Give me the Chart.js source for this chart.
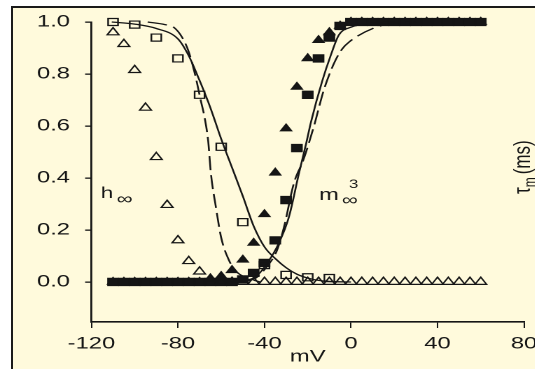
<!DOCTYPE html>
<html>
<head>
<meta charset="utf-8">
<title>Steady-state activation and inactivation</title>
<script src="https://cdn.jsdelivr.net/npm/chart.js@4.4.1/dist/chart.umd.min.js"></script>
<style>
  html, body { margin: 0; padding: 0; background: #fff; overflow: hidden; }
  #panel {
    position: absolute; left: 11px; top: 6px; width: 600px; height: 400px;
    background: #fffadc; border-left: 2px solid #1a1a1a; border-top: 2px solid #1a1a1a;
  }
  /* the figure is drawn narrow and widened horizontally */
  #wrap {
    position: absolute; left: 0; top: 0; width: 400px; height: 369px;
    transform: scaleX(1.4); transform-origin: 0 0;
  }
</style>
</head>
<body>
<div id="panel"></div>
<div id="wrap"><canvas id="chart"></canvas></div>
<script>
// membrane potential steps (mV)
const volts = [-110, -105, -100, -95, -90, -85, -80, -75, -70, -65, -60, -55, -50, -45, -40, -35, -30, -25,
  -20, -15, -10, -5, 0, 5, 10, 15, 20, 25, 30, 35, 40, 45, 50, 55, 60];

// activation data (filled symbols)
const mSquares = [0, 0, 0, 0, 0, 0, 0, 0, 0, 0, 0, 0, 0.01, 0.035, 0.073, 0.16, 0.315, 0.515,
  0.72, 0.86, 0.94, 0.985, 1, 1, 1, 1, 1, 1, 1, 1, 1, 1, 1, 1, 1];
const mTriangles = [0, 0, 0, 0, 0, 0, 0, 0, 0, 0.01, 0.022, 0.045, 0.085, 0.15, 0.26, 0.42, 0.59, 0.75,
  0.86, 0.93, 0.96, 0.985, 1, 1, 1, 1, 1, 1, 1, 1, 1, 1, 1, 1, 1];

// inactivation data (open symbols)
const hTriangles = [0.96, 0.915, 0.815, 0.67, 0.48, 0.296, 0.16, 0.08, 0.04, 0.012, 0, 0, 0, 0, 0, 0, 0, 0,
  0, 0, 0, 0, 0, 0, 0, 0, 0, 0, 0, 0, 0, 0, 0, 0, 0];
const hSquareVolts = [-110, -100, -90, -80, -70, -60, -50, -40, -30, -20, -10];
const hSquares = [1.0, 0.99, 0.94, 0.86, 0.72, 0.52, 0.23, 0.065, 0.027, 0.018, 0.015];

// fitted curves
const hFitV = [-110.6, -100, -90, -80, -75, -70, -65, -60, -55, -50, -45, -40, -35, -30, -25, -20, -15, -10, 0];
const hFitVal = [1.0, 0.992, 0.975, 0.935, 0.87, 0.775, 0.67, 0.55, 0.44, 0.33, 0.215, 0.135, 0.09, 0.055, 0.03, 0.015, 0.006, 0.002, 0];
const hDashV = [-94, -86, -82, -78, -75, -72, -69.5, -67.5, -66, -64.8, -62.5, -60, -56.5, -53, -48, -42];
const hDashVal = [1.0, 0.99, 0.98, 0.94, 0.885, 0.795, 0.70, 0.625, 0.54, 0.42, 0.29, 0.17, 0.085, 0.04, 0.015, 0];
const mFitV = [-55, -50, -44, -38.9, -33.3, -28.7, -24, -20.8, -18.5, -13.4, -9.3, -5.6, 0, 10, 20];
const mFitVal = [0, 0.005, 0.02, 0.07, 0.15, 0.25, 0.42, 0.53, 0.615, 0.77, 0.873, 0.95, 0.98, 0.995, 1.0];
const mDashV = [-50, -44, -39, -34.3, -31, -26.4, -22, -17.1, -12.5, -7.9, -4.2, -0.9, 10.6, 20, 30];
const mDashVal = [0, 0.015, 0.058, 0.12, 0.21, 0.38, 0.47, 0.60, 0.74, 0.84, 0.895, 0.923, 0.977, 0.995, 1.0];

const xTicks = [-120, -80, -40, 0, 40, 80];
const yTicks = [0, 0.2, 0.4, 0.6, 0.8, 1.0];

const FONT = '"Liberation Sans", Arial, sans-serif';
const INK = '#151515';

const pts = (xs, ys) => xs.map((v, i) => ({ x: v, y: ys[i] }));

function curve(xs, ys, dash) {
  return {
    data: pts(xs, ys),
    showLine: true,
    borderColor: INK,
    borderWidth: 1.3,
    borderDash: dash || [],
    pointRadius: 0,
    cubicInterpolationMode: 'monotone',
    clip: false
  };
}

function markers(xs, ys, style, radius, filled) {
  return {
    data: pts(xs, ys),
    showLine: false,
    pointStyle: style,
    pointRadius: radius,
    borderColor: INK,
    borderWidth: filled ? 1 : 1.2,
    backgroundColor: filled ? INK : 'rgba(0,0,0,0)',
    clip: false
  };
}

// curve names and the rotated right-hand axis title
const labelPlugin = {
  id: 'curveLabels',
  afterDraw(chart) {
    const { ctx, scales: { x, y } } = chart;
    ctx.save();
    ctx.fillStyle = INK;
    ctx.textBaseline = 'alphabetic';
    ctx.textAlign = 'left';

    let px = x.getPixelForValue(-115.7);
    let py = y.getPixelForValue(0.323);
    ctx.font = `16px ${FONT}`;
    ctx.fillText('h', px, py);
    ctx.fillText('\u221e', px + 11.4, py + 6);

    px = x.getPixelForValue(-14.8);
    py = y.getPixelForValue(0.315);
    ctx.font = `17px ${FONT}`;
    ctx.fillText('m', px, py);
    ctx.font = `16px ${FONT}`;
    ctx.fillText('\u221e', px + 16.4, py + 5);
    ctx.font = `12px ${FONT}`;
    ctx.fillText('3', px + 21.4, py - 12);

    // right axis title, mostly off the edge
    ctx.translate(378.5, 194);
    ctx.rotate(-Math.PI / 2);
    ctx.font = `17px ${FONT}`;
    ctx.fillText('\u03c4', 0, 0);
    let w = ctx.measureText('\u03c4').width;
    ctx.font = `12px ${FONT}`;
    ctx.fillText('m', w, 4);
    w += ctx.measureText('m').width + 3;
    ctx.font = `17px ${FONT}`;
    ctx.fillText('(ms)', w, 0);
    ctx.restore();
  }
};

new Chart(document.getElementById('chart'), {
  type: 'scatter',
  data: {
    datasets: [
      curve(hFitV, hFitVal),
      curve(hDashV, hDashVal, [14, 5]),
      curve(mFitV, mFitVal),
      curve(mDashV, mDashVal, [14, 5]),
      markers(hSquareVolts, hSquares, 'rect', 5, false),
      markers(volts, hTriangles, 'triangle', 4.8, false),
      markers(volts, mSquares, 'rect', 5.2, true),
      markers(volts, mTriangles, 'triangle', 4.6, true)
    ]
  },
  plugins: [labelPlugin],
  options: {
    responsive: true,
    maintainAspectRatio: false,
    devicePixelRatio: 2,
    animation: false,
    layout: { padding: { top: 22, left: 0, right: 25.7, bottom: 0 } },
    plugins: {
      legend: { display: false },
      tooltip: { enabled: false }
    },
    scales: {
      x: {
        type: 'linear',
        min: -120,
        max: 80,
        afterBuildTicks: s => { s.ticks = xTicks.map(v => ({ value: v })); },
        afterFit: s => { s.height = 47; },
        ticks: {
          autoSkip: false,
          maxRotation: 0,
          padding: 5.6,
          color: INK,
          font: { family: FONT, size: 17 },
          callback: v => String(v)
        },
        grid: { drawOnChartArea: false, drawTicks: true, tickLength: 6, color: INK, lineWidth: 1 },
        border: { display: true, color: INK, width: 1.6 },
        title: {
          display: true,
          text: 'mV',
          color: INK,
          font: { family: FONT, size: 17 },
          padding: { top: 0, bottom: 1.8 }
        }
      },
      y: {
        type: 'linear',
        min: -0.154,
        max: 1.0,
        afterBuildTicks: s => { s.ticks = yTicks.map(v => ({ value: v })); },
        afterFit: s => { s.width = 65.3; },
        ticks: {
          padding: 10.8,
          color: INK,
          font: { family: FONT, size: 17 },
          callback: v => v.toFixed(1)
        },
        grid: { drawOnChartArea: false, drawTicks: true, tickLength: 4.5, color: INK, lineWidth: 1.3 },
        border: { display: true, color: INK, width: 1.4 }
      }
    }
  }
});
</script>
</body>
</html>
